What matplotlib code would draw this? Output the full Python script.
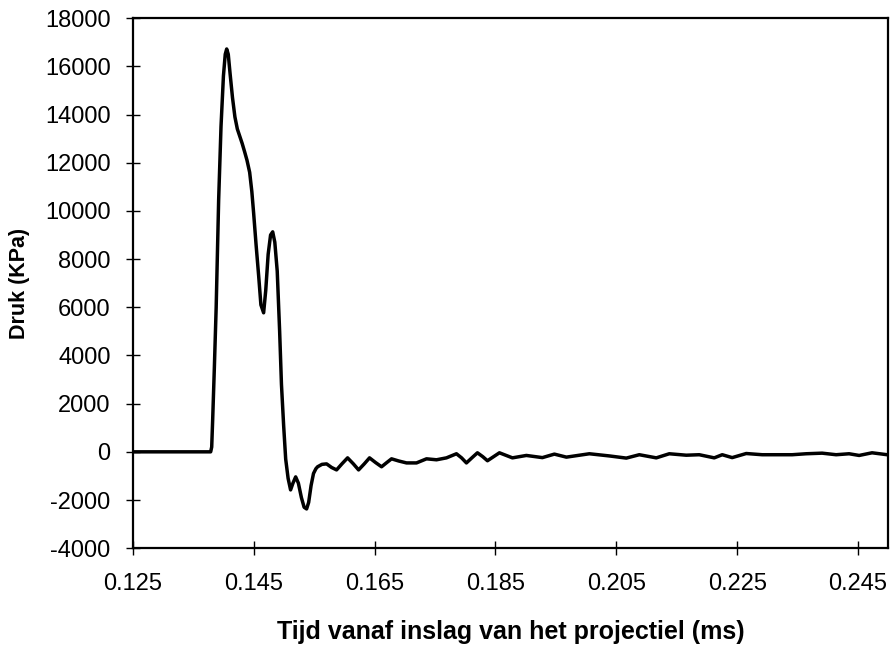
import matplotlib.pyplot as plt

# Tijd (ms) en druk (kPa)
tijd = [0.125, 0.1300, 0.1350, 0.13789, 0.13806, 0.13822, 0.1385, 0.1388, 0.13921,
        0.1396, 0.1400, 0.1403, 0.14054, 0.1408, 0.1411, 0.1415, 0.1419, 0.1423,
        0.1427, 0.1431, 0.14351, 0.1439, 0.14434, 0.1447, 0.1450, 0.1454, 0.14583,
        0.1462, 0.14665, 0.1470, 0.1474, 0.1478, 0.14815, 0.1485, 0.1489, 0.1493,
        0.1496, 0.14996, 0.1503, 0.1507, 0.15111, 0.1515, 0.15195, 0.1524, 0.1529,
        0.15335, 0.15376, 0.1541, 0.1545, 0.1549, 0.1553, 0.15558, 0.1563, 0.15707,
        0.1579, 0.15872, 0.1596, 0.16054, 0.1615, 0.16236, 0.1633, 0.16417, 0.1652,
        0.16616, 0.1670, 0.16781, 0.1690, 0.17029, 0.17194, 0.1736,
        0.17525, 0.17690, 0.17855, 0.1794, 0.1802, 0.1811, 0.18202, 0.1829, 0.18368,
        0.1847, 0.18566, 0.18781,
        0.19012, 0.19277, 0.19475, 0.19674, 0.20054, 0.20384, 0.20665, 0.2088,
        0.21161, 0.21376, 0.21657, 0.21872, 0.2212, 0.22252, 0.22417, 0.22649,
        0.22913, 0.23409, 0.2364, 0.23905, 0.24136, 0.24351, 0.24517, 0.24731,
        0.2498]
druk = [0, 0, 0, 0, 200, 1330, 3500, 6000, 10460,
        13500, 15600, 16500, 16720, 16500, 15700, 14700, 13900, 13400,
        13100, 12800, 12450, 12100, 11600, 10800, 9900, 8600, 7300,
        6100, 5770, 6700, 8200, 9000, 9130, 8700, 7500, 5000,
        2800, 1100, -300, -1100, -1580, -1300, -1040, -1300, -1900,
        -2300, -2370, -2100, -1400, -900, -700, -620, -520, -500,
        -650, -750, -500, -250, -500, -750, -500, -250, -450,
        -620, -450, -290, -380, -460, -460, -290,
        -330, -250, -80, -250, -460, -250, -40, -200, -370,
        -200, -40, -250,
        -150, -240, -95, -220, -80, -170, -260, -120,
        -250, -80, -140, -120, -250, -120, -240, -70,
        -120, -120, -80, -55, -120, -80, -150, -40,
        -120]

x_ticks = [0.125, 0.145, 0.165, 0.185, 0.205, 0.225, 0.245]
y_ticks = list(range(-4000, 18001, 2000))

plt.rcParams['font.family'] = ['Liberation Sans', 'DejaVu Sans']
plt.rcParams['axes.unicode_minus'] = False

fig = plt.figure(figsize=(8.91, 6.48), dpi=100)
ax = fig.add_axes([0.149, 0.154, 0.848, 0.818])

ax.plot(tijd, druk, color='black', lw=2.5, solid_joinstyle='round')

ax.set_xlim(0.125, 0.25)
ax.set_ylim(-4000, 18000)
ax.set_xticks(x_ticks)
ax.set_xticklabels([f"{t:.3f}" for t in x_ticks])
ax.set_yticks(y_ticks)
ax.tick_params(direction='inout', length=10, width=1, labelsize=17)
ax.tick_params(axis='x', pad=13)
ax.tick_params(axis='y', pad=11)

for s in ax.spines.values():
    s.set_linewidth(1.6)

ax.set_xlabel("Tijd vanaf inslag van het projectiel (ms)", fontsize=18,
              fontweight='bold', labelpad=18)
ax.set_ylabel("Druk (KPa)", fontsize=15.5, fontweight='bold', labelpad=11)

fig.savefig("out.png", dpi=100)
